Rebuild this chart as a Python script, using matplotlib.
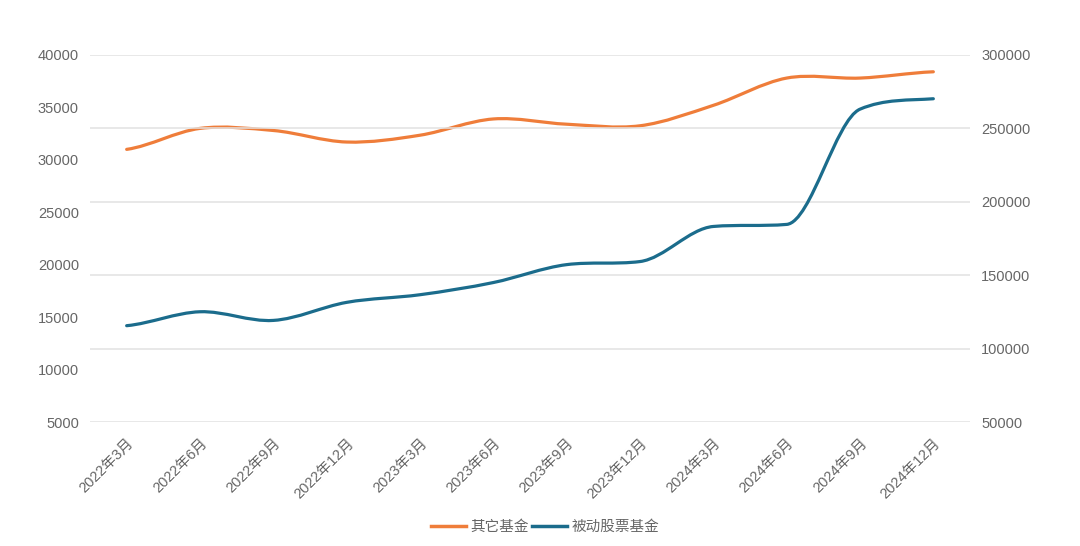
import matplotlib.pyplot as plt
from matplotlib.path import Path
from matplotlib.patches import PathPatch
from matplotlib.lines import Line2D

plt.rcParams['font.family'] = ['Liberation Sans', 'Noto Sans CJK SC', 'DejaVu Sans']

months = ["2022年3月", "2022年6月", "2022年9月", "2022年12月",
          "2023年3月", "2023年6月", "2023年9月", "2023年12月",
          "2024年3月", "2024年6月", "2024年9月", "2024年12月"]
other_funds = [31000, 33000, 32800, 31700, 32350, 33900,
               33400, 33250, 35200, 37800, 37800, 38400]
passive_equity = [115600, 125100, 119200, 131500, 136700, 145000,
                  157200, 159300, 183200, 184600, 263100, 270200]

ORANGE = "#EF7D3A"
BLUE = "#1B6C8C"
GREY = "#666666"


def tangents(ys):
    n = len(ys)
    d = [ys[i + 1] - ys[i] for i in range(n - 1)]
    m = [d[0] / 2]
    for i in range(1, n - 1):
        t = (ys[i + 1] - ys[i - 1]) / 2
        if d[i - 1] * d[i] > 0:
            lim = 3 * min(abs(d[i - 1]), abs(d[i]))
            t = max(-lim, min(lim, t))
        m.append(t)
    m.append(d[-1] / 2)
    return m


def smooth_path(xs, ys):
    # hermite curve through the points, drawn as cubic bezier segments
    m = tangents(ys)
    verts = [(xs[0], ys[0])]
    codes = [Path.MOVETO]
    for i in range(len(xs) - 1):
        verts += [(xs[i] + 1 / 3, ys[i] + m[i] / 3),
                  (xs[i + 1] - 1 / 3, ys[i + 1] - m[i + 1] / 3),
                  (xs[i + 1], ys[i + 1])]
        codes += [Path.CURVE4] * 3
    return Path(verts, codes)


fig = plt.figure(figsize=(10.8, 5.46), dpi=100)
ax = fig.add_axes([90 / 1080, 1 - 422 / 546, 880 / 1080, 367 / 546])
ax2 = ax.twinx()

x = list(range(len(months)))
ax.add_patch(PathPatch(smooth_path(x, other_funds), fill=False, edgecolor=ORANGE,
                       lw=2.3, capstyle='round', zorder=3))
ax2.add_patch(PathPatch(smooth_path(x, passive_equity), fill=False, edgecolor=BLUE,
                        lw=2.3, capstyle='round', zorder=3))

ax.set_xlim(-0.5, len(months) - 0.5)
ax.set_ylim(5000, 40000)
ax2.set_ylim(50000, 300000)
ax.set_yticks(range(5000, 40001, 5000))
ax2.set_yticks(range(50000, 300001, 50000))
ax2.grid(axis='y', color="#e2e2e2", lw=1.1)
ax2.set_axisbelow(True)

ax.set_xticks(x)
ax.set_xticklabels(months, rotation=45, ha='right', va='top', rotation_mode='anchor')

for a in (ax, ax2):
    for s in a.spines.values():
        s.set_visible(False)
    a.tick_params(length=0, labelsize=10.5, labelcolor=GREY, pad=8)
ax.tick_params(axis='x', pad=10)

handles = [Line2D([], [], color=ORANGE, lw=2.5),
           Line2D([], [], color=BLUE, lw=2.5)]
leg = fig.legend(handles, ["其它基金", "被动股票基金"], loc='center', bbox_to_anchor=(0.505, 1 - 527 / 546),
                 ncol=2, frameon=False, fontsize=10.5, handlelength=2.4, handletextpad=0.3,
                 columnspacing=0.2)
for t in leg.get_texts():
    t.set_color(GREY)

fig.savefig("out.png", dpi=100)
